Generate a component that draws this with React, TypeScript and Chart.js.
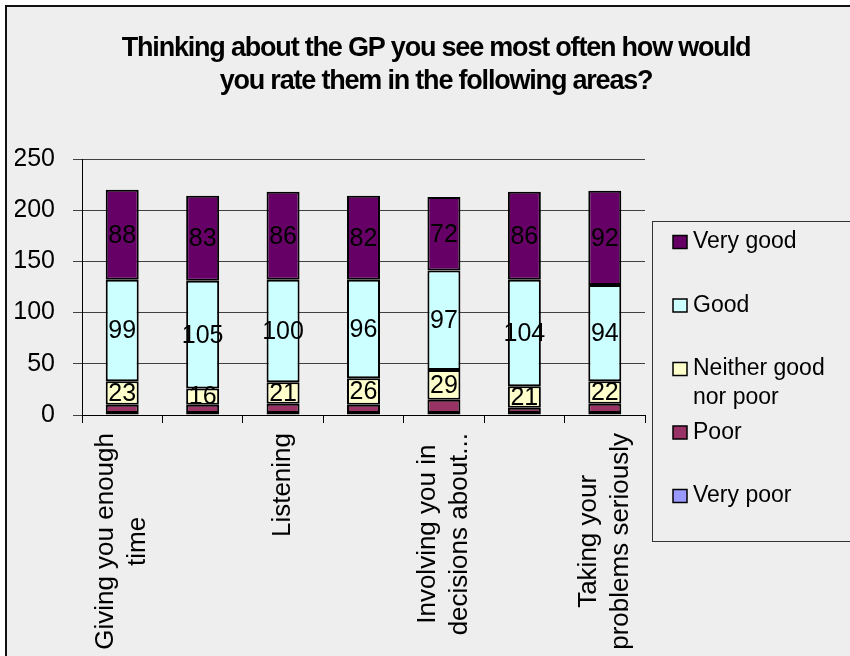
import React, { useEffect, useRef } from 'react';
import { Chart, registerables } from 'chart.js';

Chart.register(...registerables);

// ---- Data ----
const categories = [
  'Giving you enough time',
  '',
  'Listening',
  '',
  'Involving you in decisions about...',
  '',
  'Taking your problems seriously',
];
const categoryTickLines: string[][] = [
  ['Giving you enough', 'time'],
  [],
  ['Listening'],
  [],
  ['Involving you in', 'decisions about...'],
  [],
  ['Taking your', 'problems seriously'],
];
const seriesNames = ['Very poor', 'Poor', 'Neither good nor poor', 'Good', 'Very good'];
const veryPoor = [2, 2, 2, 2, 2, 2, 2];
const poor = [8, 8, 9, 8, 13, 5, 9];
const neither = [23, 16, 21, 26, 29, 21, 22];
const good = [99, 105, 100, 96, 97, 104, 94];
const veryGood = [88, 83, 86, 82, 72, 86, 92];
const seriesColors = ['#9999FF', '#993366', '#FFFFCC', '#CCFFFF', '#660066'];
const labeledSeries = ['Neither good nor poor', 'Good', 'Very good'];
const yTicks = [0, 50, 100, 150, 200, 250];
const titleLines = [
  'Thinking about the GP you see most often how would',
  'you rate them in the following areas?',
];

const FONT = '"Liberation Sans", Arial, sans-serif';

const backgroundPlugin = {
  id: 'bg',
  beforeDraw(chart: any) {
    const { ctx, width, height } = chart;
    ctx.save();
    ctx.fillStyle = '#EEEEEE';
    ctx.fillRect(0, 0, width, height);
    ctx.strokeStyle = '#111';
    ctx.lineWidth = 2;
    ctx.strokeRect(1, 1, width - 2, height - 2);
    ctx.restore();
  },
};

const titlePlugin = {
  id: 'customTitle',
  afterDraw(chart: any) {
    const { ctx, width } = chart;
    ctx.save();
    ctx.font = `bold 27px ${FONT}`;
    (ctx as any).letterSpacing = '-1.2px';
    ctx.fillStyle = '#000';
    ctx.textAlign = 'center';
    ctx.textBaseline = 'middle';
    titleLines.forEach((t, i) => ctx.fillText(t, width / 2, 44 + i * 33));
    ctx.restore();
  },
};

const valueLabelPlugin = {
  id: 'valueLabels',
  afterDatasetsDraw(chart: any) {
    const ctx = chart.ctx;
    ctx.save();
    ctx.font = `25px ${FONT}`;
    ctx.fillStyle = '#000';
    ctx.textAlign = 'center';
    ctx.textBaseline = 'middle';
    chart.data.datasets.forEach((ds: any, di: number) => {
      if (!labeledSeries.includes(ds.label)) return;
      const meta = chart.getDatasetMeta(di);
      meta.data.forEach((el: any, i: number) => {
        const { x, y, base } = el.getProps(['x', 'y', 'base'], true);
        ctx.fillText(String(ds.data[i]), x, (y + base) / 2 + 1);
      });
    });
    ctx.restore();
  },
};

const categoryLabelPlugin = {
  id: 'categoryLabels',
  afterDraw(chart: any) {
    const ctx = chart.ctx;
    const xs = chart.scales.x;
    ctx.save();
    ctx.font = `26px ${FONT}`;
    ctx.fillStyle = '#000';
    ctx.textAlign = 'center';
    ctx.textBaseline = 'middle';
    categoryTickLines.forEach((lines, i) => {
      if (!lines.length) return;
      const cx = xs.getPixelForValue(i);
      const top = xs.top + 18;
      const w = Math.max(...lines.map((l) => ctx.measureText(l).width));
      ctx.save();
      ctx.translate(cx, top + w / 2);
      ctx.rotate(-Math.PI / 2);
      lines.forEach((l, k) => ctx.fillText(l, 0, (k - (lines.length - 1) / 2) * 32));
      ctx.restore();
    });
    ctx.restore();
  },
};

function wrap(ctx: CanvasRenderingContext2D, text: string, maxW: number): string[] {
  const words = text.split(' ');
  const out: string[] = [];
  let cur = '';
  words.forEach((w) => {
    const t = cur ? cur + ' ' + w : w;
    if (ctx.measureText(t).width > maxW && cur) {
      out.push(cur);
      cur = w;
    } else cur = t;
  });
  if (cur) out.push(cur);
  return out;
}

const legendPlugin = {
  id: 'customLegend',
  afterDraw(chart: any) {
    const ctx = chart.ctx;
    ctx.save();
    ctx.strokeStyle = '#333';
    ctx.lineWidth = 1;
    ctx.strokeRect(647.5, 216.5, 210, 320);
    ctx.font = `23px ${FONT}`;
    ctx.textBaseline = 'middle';
    ctx.textAlign = 'left';
    const ds = [...chart.data.datasets].reverse();
    ds.forEach((d: any, i: number) => {
      const y = 237 + i * 63.5;
      ctx.fillStyle = d.backgroundColor;
      ctx.fillRect(668, y - 6.5, 14, 13);
      ctx.strokeStyle = '#000';
      ctx.lineWidth = 1.5;
      ctx.strokeRect(668, y - 6.5, 14, 13);
      ctx.fillStyle = '#000';
      const lines = wrap(ctx, d.label, 150);
      lines.forEach((l, k) => ctx.fillText(l, 688, y + k * 29));
    });
    ctx.restore();
  },
};

export default function App() {
  const ref = useRef<HTMLCanvasElement>(null);
  useEffect(() => {
    const values = [veryPoor, poor, neither, good, veryGood];
    const chart = new Chart(ref.current!, {
      type: 'bar',
      data: {
        labels: categories,
        datasets: seriesNames.map((name, i) => ({
          label: name,
          data: values[i],
          backgroundColor: seriesColors[i],
          borderColor: '#000',
          borderWidth: 2,
          borderSkipped: false,
          barPercentage: 0.41,
          categoryPercentage: 1,
        })),
      },
      options: {
        animation: false,
        responsive: false,
        devicePixelRatio: 1,
        layout: { padding: { left: 10, top: 154, right: 862 - 640, bottom: 680 - 410 - 100 } },
        plugins: {
          legend: { display: false },
          title: { display: false },
          tooltip: { enabled: false },
        },
        scales: {
          x: {
            stacked: true,
            grid: { offset: true, drawOnChartArea: false, drawTicks: true, tickLength: 8, color: '#000', lineWidth: 1 },
            border: { color: '#000', width: 1 },
            ticks: { display: false },
            afterFit: (s: any) => {
              s.height = 100;
            },
          },
          y: {
            stacked: true,
            min: yTicks[0],
            max: yTicks[yTicks.length - 1],
            ticks: {
              stepSize: 50,
              color: '#000',
              font: { family: FONT, size: 25 },
              padding: 18,
            },
            grid: { color: '#404040', tickLength: 9, lineWidth: 1 },
            border: { color: '#000', width: 1 },
            afterFit: (s: any) => {
              s.width = 67;
            },
          },
        },
      },
      plugins: [backgroundPlugin, valueLabelPlugin, categoryLabelPlugin, legendPlugin, titlePlugin],
    } as any);
    return () => chart.destroy();
  }, []);
  return (
    <div style={{ position: 'fixed', left: 0, top: 0, width: 850, height: 656, overflow: 'hidden', background: '#fff' }}>
      <canvas
        ref={ref}
        width={862}
        height={680}
        style={{ position: 'absolute', left: 5, top: 5, width: 862, height: 680 }}
      />
    </div>
  );
}
